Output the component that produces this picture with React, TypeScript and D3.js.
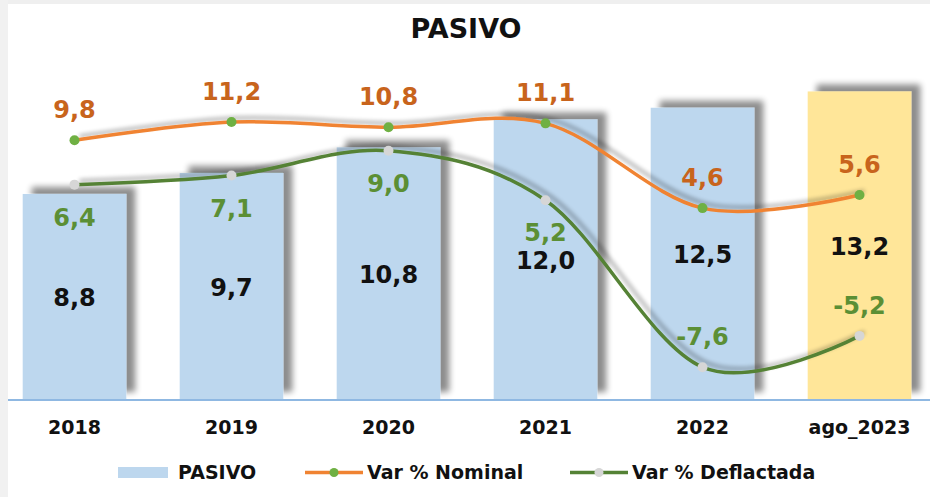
import * as d3 from 'd3'

const categories = ['2018', '2019', '2020', '2021', '2022', 'ago_2023']
const pasivo = [8.8, 9.7, 10.8, 12.0, 12.5, 13.2]
const varNominal = [9.8, 11.2, 10.8, 11.1, 4.6, 5.6]
const varDeflactada = [6.4, 7.1, 9.0, 5.2, -7.6, -5.2]

const W = 930
const H = 497
const FONT = '"DejaVu Sans", Verdana, sans-serif'

const fmt = (v: number) => v.toFixed(1).replace('.', ',')

export default function App() {
  const x = d3.scaleBand<string>().domain(categories).range([-4, 938]).paddingInner(0.34).paddingOuter(0.17)
  const yBar = d3.scaleLinear().domain([0, 14]).range([399, 72.8])
  const yLine = d3.scaleLinear().domain([-10, 15]).range([398.5, 72.5])
  const cx = (c: string) => (x(c) ?? 0) + x.bandwidth() / 2

  const line = d3
    .line<number>()
    .x((_, i) => cx(categories[i]))
    .y((d) => yLine(d))
    .curve(d3.curveCardinal.tension(0))

  return (
    <svg width={W} height={H} style={{ position: 'absolute', left: 0, top: 0, background: '#fff' }}>
      <defs>
        <filter id="barShadow" x="-20%" y="-20%" width="150%" height="140%">
          <feGaussianBlur in="SourceAlpha" stdDeviation="3" />
          <feOffset dx="9" dy="-7" />
          <feComponentTransfer>
            <feFuncA type="linear" slope="0.45" />
          </feComponentTransfer>
          <feMerge>
            <feMergeNode />
            <feMergeNode in="SourceGraphic" />
          </feMerge>
        </filter>
        <filter id="lineShadow" x="-10%" y="-30%" width="120%" height="160%">
          <feGaussianBlur in="SourceAlpha" stdDeviation="2" />
          <feOffset dx="5" dy="-4" />
          <feComponentTransfer>
            <feFuncA type="linear" slope="0.3" />
          </feComponentTransfer>
          <feMerge>
            <feMergeNode />
            <feMergeNode in="SourceGraphic" />
          </feMerge>
        </filter>
      </defs>

      {/* frame strips */}
      <rect x={0} y={0} width={W} height={4} fill="#efefef" />
      <rect x={0} y={0} width={8} height={H} fill="#f1f1f1" />

      <text x={466} y={38} textAnchor="middle" fontFamily={FONT} fontWeight="bold" fontSize={27} fill="#111">
        PASIVO
      </text>

      {/* bars */}
      <g filter="url(#barShadow)">
        {categories.map((c, i) => (
          <rect
            key={c}
            x={x(c)}
            y={yBar(pasivo[i])}
            width={x.bandwidth()}
            height={yBar(0) - yBar(pasivo[i])}
            fill={c === 'ago_2023' ? '#ffe699' : '#bdd7ee'}
          />
        ))}
      </g>

      <line x1={8} x2={W} y1={400} y2={400} stroke="#8fb8e2" strokeWidth={2} />

      {/* lines */}
      <g filter="url(#lineShadow)">
        <path d={line(varNominal) ?? ''} fill="none" stroke="#f08332" strokeWidth={3.5} />
        <path d={line(varDeflactada) ?? ''} fill="none" stroke="#548235" strokeWidth={3.5} />
      </g>
      {varNominal.map((v, i) => (
        <circle key={'n' + i} cx={cx(categories[i])} cy={yLine(v)} r={5} fill="#6fb043" />
      ))}
      {varDeflactada.map((v, i) => (
        <circle key={'d' + i} cx={cx(categories[i])} cy={yLine(v)} r={5} fill="#d6d6d6" />
      ))}

      {/* labels */}
      <g fontFamily={FONT} fontWeight="bold" fontSize={24} textAnchor="middle">
        {pasivo.map((v, i) => (
          <text key={'pl' + i} x={cx(categories[i])} y={(yBar(v) + yBar(0)) / 2 + 10} fill="#111">
            {fmt(v)}
          </text>
        ))}
        {varNominal.map((v, i) => (
          <text key={'nl' + i} x={cx(categories[i])} y={yLine(v) - 22} fill="#c8641c">
            {fmt(v)}
          </text>
        ))}
        {varDeflactada.map((v, i) => (
          <text key={'dl' + i} x={cx(categories[i])} y={v < 0 ? yLine(v) - 22 : yLine(v) + 41} fill="#5b8f35">
            {fmt(v)}
          </text>
        ))}
      </g>

      {/* x axis labels */}
      <g fontFamily={FONT} fontWeight="bold" fontSize={19} textAnchor="middle" fill="#111">
        {categories.map((c) => (
          <text key={c} x={cx(c)} y={434}>
            {c}
          </text>
        ))}
      </g>

      {/* legend */}
      <g fontFamily={FONT} fontWeight="bold" fontSize={19} fill="#111">
        <rect x={118} y={467} width={50} height={11} fill="#bdd7ee" />
        <text x={178} y={479}>PASIVO</text>
        <line x1={305} x2={363} y1={472.5} y2={472.5} stroke="#f08332" strokeWidth={3.5} />
        <circle cx={334} cy={472.5} r={4.5} fill="#6fb043" />
        <text x={367} y={479}>Var % Nominal</text>
        <line x1={570} x2={628} y1={472.5} y2={472.5} stroke="#548235" strokeWidth={3.5} />
        <circle cx={599} cy={472.5} r={4.5} fill="#d6d6d6" />
        <text x={632} y={479}>Var % Deflactada</text>
      </g>
    </svg>
  )
}
